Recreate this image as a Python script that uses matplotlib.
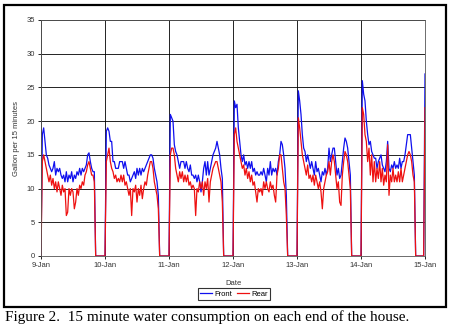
import matplotlib
matplotlib.use("Agg")
import matplotlib.pyplot as plt
import matplotlib.dates as mdates
from matplotlib.patches import Rectangle
import pandas as pd

# half-hour readings, one list per day (00:00 .. 23:30)
front_09 = [0, 18, 19, 17, 15, 14.5, 13.5, 13, 12.5, 13, 14, 12, 13, 12.5, 13, 12,
            11.5, 12, 11, 12.5, 11, 12, 11.5, 12.5, 11, 12, 11.5, 12.5, 12, 13, 12,
            13, 12.5, 13, 13.5, 15, 15.3, 14, 13, 12.5, 12.5, 0, 0, 0, 0, 0, 0, 0]
rear_09 = [0, 14, 15, 14, 13, 12, 11, 12, 10.5, 11.5, 10, 11, 9.5, 11, 10, 9,
           10.5, 9.5, 10, 6, 6.5, 10, 9, 10, 9.5, 7, 8, 10, 9, 10.5, 10,
           11, 10.5, 12, 12.5, 13.5, 14, 13, 12, 12, 11, 0, 0, 0, 0, 0, 0, 0]

front_10 = [0, 18.5, 19, 18.5, 17, 17, 14, 14, 13, 13, 13, 14, 14, 14, 13, 14,
            13, 12, 12, 11, 11.5, 12, 12.5, 11.5, 13, 12, 13, 12, 13, 12.5, 13,
            13.5, 14, 14.5, 15, 15, 14.5, 13, 12, 11, 9, 0, 0, 0, 0, 0, 0, 0]
rear_10 = [0, 14, 15, 16, 14, 13, 12.5, 11.5, 12, 11, 11.5, 11, 12, 11, 12, 10.5,
           11, 10, 9, 10, 6, 10, 9.5, 10.5, 8, 10, 9, 10.5, 8.5, 10, 11,
           10.5, 12, 13, 14, 14, 13, 11, 10, 9, 7, 0, 0, 0, 0, 0, 0, 0]

front_11 = [0, 21, 20.5, 20, 16.5, 15.5, 15, 14, 13, 14, 14, 14, 13, 14, 13, 12.5,
            13.5, 12, 12, 11.5, 12, 11, 12, 11, 9.5, 11, 13, 14, 12, 14, 12,
            13, 14, 15, 15.5, 16, 17, 16, 15, 13, 11.5, 0, 0, 0, 0, 0, 0, 0]
rear_11 = [0, 15, 16, 16, 15, 13, 12, 11, 12.5, 11.5, 12.5, 11, 12, 11, 12, 10.5,
           11, 10, 10.5, 10, 6, 10, 9.5, 11, 10, 11, 9, 11, 10, 11.5, 8,
           11, 12, 13, 13.5, 14, 14, 13, 12, 11, 8, 0, 0, 0, 0, 0, 0, 0]

front_12 = [0, 23, 22, 22.5, 19, 17, 15, 14, 15, 13.5, 14, 13, 14, 13, 14, 12.5,
            13, 12, 12.5, 12, 12, 12.5, 12, 13, 12, 11, 13, 12, 14, 12, 13,
            12.5, 13, 12, 14, 15, 17, 16.5, 15, 13, 9, 0, 0, 0, 0, 0, 0, 0]
rear_12 = [0, 18, 19, 17, 16, 15, 14, 13, 13.5, 12, 13, 11.5, 12.5, 11, 12, 10.5,
           11, 9.5, 8, 10, 9.5, 10, 9, 11, 10, 11, 10, 9.5, 11, 10, 10.5,
           9, 8, 12, 13, 15, 15, 13, 11, 10, 6, 0, 0, 0, 0, 0, 0, 0]

front_13 = [0, 24.5, 23, 21, 18, 16, 15.5, 14, 15, 14, 13, 14, 13, 12, 14, 12.5,
            13, 12, 11, 12.5, 12, 13, 12, 13, 16, 14, 15, 16, 16, 14, 12,
            13, 11.5, 12, 14, 16, 17.5, 17, 16, 14, 12, 0, 0, 0, 0, 0, 0, 0]
rear_13 = [0, 20.5, 19, 17, 15, 14, 13, 12, 13.5, 11.5, 12, 11, 12, 10.5, 12, 11,
           10, 11, 9.5, 7, 10, 11, 12, 12.5, 14, 12, 14, 15, 14, 12, 10,
           11, 8, 7.5, 12, 14, 15.5, 15, 14, 12, 10, 0, 0, 0, 0, 0, 0, 0]

front_14 = [0, 26, 24, 23, 20, 18, 16.5, 17, 15.5, 15, 14.5, 14.5, 13, 14, 14.5, 15,
            13.5, 13, 12.5, 14, 17, 13, 12.5, 13.5, 13, 14, 13, 13.5, 13, 14.5, 13,
            14, 14, 15, 16.5, 18, 18, 18, 16, 14, 12, 0, 0, 0, 0, 0, 0, 0]
rear_14 = [0, 22, 21, 18, 17, 14, 16, 12, 15, 11, 14, 11, 13, 11.5, 14, 11,
           13, 10.5, 12, 11, 16.5, 9, 12, 11, 13, 11, 12, 11, 12.5, 11, 13,
           11, 12, 13, 14, 15, 15.5, 15, 14, 12, 11, 0, 0, 0, 0, 0, 0, 0]

front_15 = [27]
rear_15 = [22]

front = front_09 + front_10 + front_11 + front_12 + front_13 + front_14 + front_15
rear = rear_09 + rear_10 + rear_11 + rear_12 + rear_13 + rear_14 + rear_15
times = pd.date_range("2009-01-09", periods=len(front), freq="30min")

fig = plt.figure(figsize=(4.5, 3.32), dpi=100)
ax = fig.add_axes([41 / 450, 1 - 256 / 332, 384 / 450, 236 / 332])

ax.plot(times, front, color="#1010ee", lw=0.9, label="Front")
ax.plot(times, rear, color="#ee1010", lw=0.9, label="Rear")

ax.set_xlim(pd.Timestamp("2009-01-09"), pd.Timestamp("2009-01-15"))
ax.set_ylim(0, 35)
ax.set_yticks(range(0, 36, 5))
ax.xaxis.set_major_locator(mdates.DayLocator())
ax.xaxis.set_major_formatter(mdates.DateFormatter("%-d-%b"))

ax.grid(True, color="black", lw=0.6)
ax.set_axisbelow(True)
for s in ax.spines.values():
    s.set_color("#555555")
    s.set_linewidth(0.6)
ax.tick_params(labelsize=5.5, labelcolor="#333333", length=2.5, width=0.6,
               pad=2)
for lab in ax.get_xticklabels() + ax.get_yticklabels():
    lab.set_family("Liberation Sans")

ax.set_xlabel("Date", fontsize=5.5, family="Liberation Sans", color="#333333")
ax.set_ylabel("Gallon per 15 minutes", fontsize=5.5, family="Liberation Sans",
              color="#333333")
ax.xaxis.set_label_coords(0.5, -0.10)
ax.yaxis.set_label_coords(-0.055, 0.5)

leg = fig.legend(loc="center", bbox_to_anchor=(234 / 450, 1 - 294 / 332), ncol=2,
                 prop={"family": "Liberation Sans", "size": 5.5},
                 frameon=True, fancybox=False, handlelength=1.6,
                 columnspacing=0.6, handletextpad=0.3, borderpad=0.25)
leg.get_frame().set_edgecolor("black")
leg.get_frame().set_linewidth(0.8)

# border round the chart area
fig.patches.append(Rectangle((4 / 450, 1 - 307 / 332), 442 / 450, 302 / 332,
                             transform=fig.transFigure, fill=False,
                             edgecolor="black", lw=1.6))

fig.text(5 / 450, 1 - 317.5 / 332,
         "Figure 2.  15 minute water consumption on each end of the house.",
         family="Liberation Serif", fontsize=11, va="center", ha="left")

fig.savefig("out.png", dpi=100)
